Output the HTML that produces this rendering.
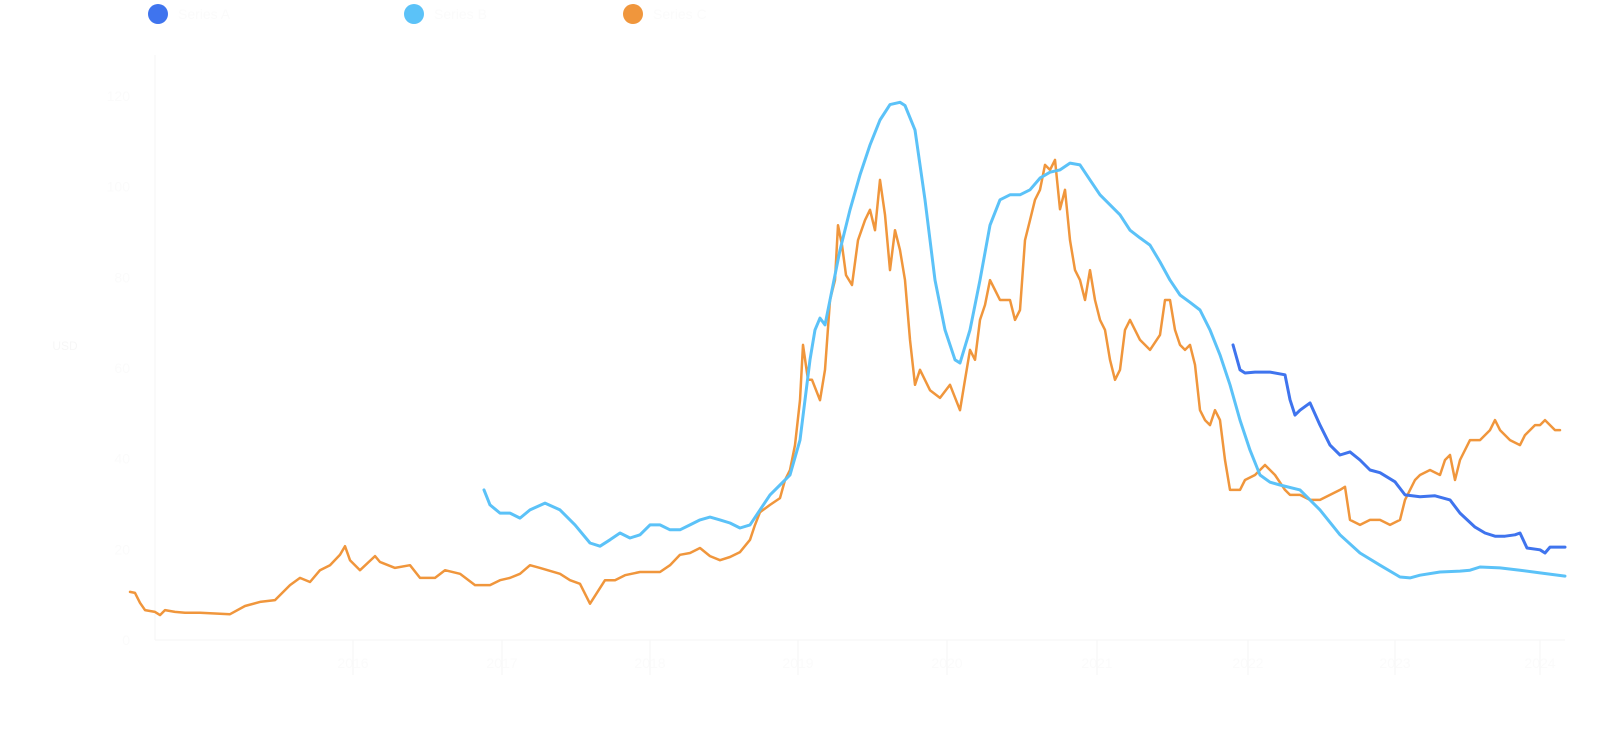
<!DOCTYPE html>
<html><head><meta charset="utf-8">
<style>
html,body{margin:0;padding:0;background:#fff;width:1600px;height:746px;overflow:hidden;font-family:"Liberation Sans","Noto Sans CJK SC",sans-serif;}
</style></head>
<body>
<svg id="chart" width="1600" height="746" viewBox="0 0 1600 746" xmlns="http://www.w3.org/2000/svg">
  <g>
    <g><circle cx="158" cy="14" r="10" fill="#3f74ee"/><text x="178" y="19" font-size="14" fill="#fbfbfb">Series A</text></g>
    <g><circle cx="414" cy="14" r="10" fill="#5bc2f8"/><text x="434" y="19" font-size="14" fill="#fbfbfb">Series B</text></g>
    <g><circle cx="633" cy="14" r="10" fill="#f0963c"/><text x="653" y="19" font-size="14" fill="#fbfbfb">Series C</text></g>
  </g>
  <g id="axes"></g>
  <g id="marks"></g>
</svg>
<script>
const yTicks=[0,20,40,60,80,100,120];
const xTickPos=[353,502,650,798,947,1097,1248,1395,1540];
const xTickLabels=["2016","2017","2018","2019","2020","2021","2022","2023","2024"];
const orangeT=[130,135,140,145,155,160,165,175,185,200,230,245,260,275,290,300,310,320,330,340,345,350,360,375,380,395,410,420,435,445,460,475,490,500,510,520,530,540,560,570,580,590,605,615,625,640,660,670,680,690,700,710,720,730,740,750,755,760,770,780,785,790,795,800,803,808,812,820,825,830,835,838,842,846,852,858,865,870,875,880,885,890,895,900,905,910,915,920,930,940,950,960,965,970,975,980,985,990,995,1000,1010,1015,1020,1025,1030,1035,1040,1045,1050,1055,1060,1065,1070,1075,1080,1085,1090,1095,1100,1105,1110,1115,1120,1125,1130,1140,1150,1160,1165,1170,1175,1180,1185,1190,1195,1200,1205,1210,1215,1220,1225,1230,1240,1245,1255,1265,1275,1285,1290,1300,1310,1320,1330,1340,1345,1350,1360,1370,1380,1390,1400,1405,1415,1420,1430,1440,1445,1450,1455,1460,1470,1480,1490,1495,1500,1510,1520,1525,1535,1540,1545,1550,1555,1560];
const orangeV=[10.6,10.4,8.2,6.6,6.2,5.5,6.6,6.2,6.0,6.0,5.7,7.5,8.4,8.8,12.1,13.7,12.8,15.4,16.5,18.8,20.7,17.6,15.4,18.5,17.2,15.9,16.5,13.7,13.7,15.4,14.6,12.1,12.1,13.2,13.7,14.6,16.5,15.9,14.6,13.2,12.4,8.0,13.2,13.2,14.3,15.0,15.0,16.5,18.8,19.2,20.3,18.5,17.6,18.3,19.4,22.1,25.4,28.2,29.8,31.3,35.3,37.5,43.0,52.9,65.1,57.4,57.4,52.9,59.6,75.0,79.4,91.5,87.1,80.5,78.3,88.2,92.6,94.9,90.4,101.5,93.8,81.6,90.4,86.0,79.4,66.2,56.3,59.6,55.1,53.4,56.3,50.7,57.4,64.0,61.8,70.6,73.9,79.4,77.2,75.0,75.0,70.6,72.8,88.2,92.6,97.1,99.3,104.8,103.7,105.9,95.0,99.3,88.2,81.6,79.4,75.0,81.6,75.0,70.6,68.4,61.8,57.4,59.6,68.4,70.6,66.2,64.0,67.3,75.0,75.0,68.4,65.1,64.0,65.1,60.7,50.7,48.5,47.4,50.7,48.5,39.7,33.1,33.1,35.3,36.4,38.6,36.4,33.1,32.0,32.0,30.9,30.9,32.0,33.1,33.8,26.5,25.4,26.5,26.5,25.4,26.5,30.9,35.3,36.4,37.5,36.4,39.7,40.8,35.3,39.7,44.1,44.1,46.3,48.5,46.3,44.1,43.0,45.2,47.4,47.4,48.5,47.4,46.3,46.3];
const lightT=[484,490,500,510,520,530,545,560,575,590,600,610,620,630,640,650,660,670,680,690,700,710,720,730,740,750,760,770,780,790,800,810,815,820,825,830,840,850,860,870,880,890,900,905,915,925,935,945,955,960,970,980,990,1000,1010,1020,1030,1040,1050,1060,1070,1080,1090,1100,1110,1120,1130,1140,1150,1160,1170,1180,1190,1200,1210,1220,1230,1240,1250,1260,1270,1280,1300,1320,1340,1360,1380,1400,1410,1420,1440,1460,1470,1480,1500,1520,1540,1565];
const lightV=[33.1,29.8,28.0,28.0,26.9,28.7,30.2,28.7,25.4,21.4,20.7,22.1,23.6,22.5,23.2,25.4,25.4,24.3,24.3,25.4,26.5,27.1,26.5,25.8,24.7,25.4,28.7,32.0,34.2,36.4,44.1,61.8,68.4,71.0,69.5,75.0,86.0,94.9,102.6,109.2,114.7,118.1,118.6,117.9,112.5,97.1,79.4,68.4,61.8,61.1,68.4,79.4,91.5,97.1,98.2,98.2,99.3,101.9,103.2,103.7,105.2,104.8,101.5,98.2,96.0,93.8,90.4,88.7,87.1,83.4,79.4,76.1,74.5,72.8,68.4,62.9,56.3,48.5,41.9,36.4,34.8,34.2,33.1,28.7,23.2,19.2,16.5,13.9,13.7,14.3,15.0,15.2,15.4,16.1,15.9,15.4,14.8,14.1];
const blueT=[1233,1240,1245,1255,1270,1285,1290,1295,1300,1310,1320,1330,1340,1350,1360,1370,1380,1395,1405,1420,1435,1450,1460,1475,1485,1495,1505,1515,1520,1527,1540,1545,1550,1565];
const blueV=[65.1,59.6,58.9,59.1,59.1,58.5,53.0,49.6,50.7,52.3,47.4,43.0,40.8,41.5,39.7,37.5,36.9,34.9,32.0,31.6,31.8,30.9,28.0,24.9,23.6,22.9,22.9,23.2,23.6,20.3,19.9,19.2,20.5,20.5];

const svgNS="http://www.w3.org/2000/svg";
const X0=130,X1=1565,PX0=130,PX1=1565;
const yBase=640,yTop=96,yMax=120;
function xs(t){return PX0+(t-X0)/(X1-X0)*(PX1-PX0);}
function ys(v){return yBase-(v/yMax)*(yBase-yTop);}
const axes=document.getElementById('axes');
const marks=document.getElementById('marks');

const yAxis=document.createElementNS(svgNS,'line');


yAxis.setAttribute('x1',155);yAxis.setAttribute('x2',155);yAxis.setAttribute('y1',55);yAxis.setAttribute('y2',640);
yAxis.setAttribute('stroke','#f6f6f6');axes.appendChild(yAxis);
const xAxis=document.createElementNS(svgNS,'line');


xAxis.setAttribute('x1',155);xAxis.setAttribute('x2',1565);xAxis.setAttribute('y1',640);xAxis.setAttribute('y2',640);
xAxis.setAttribute('stroke','#f6f6f6');axes.appendChild(xAxis);

yTicks.forEach(v=>{
  const t=document.createElementNS(svgNS,'text');
  
  
  t.setAttribute('x',130);t.setAttribute('y',ys(v)+5);t.setAttribute('text-anchor','end');
  t.setAttribute('font-size','14');t.setAttribute('fill','#fbfbfb');t.textContent=v;axes.appendChild(t);
});
const yTitle=document.createElementNS(svgNS,'text');


yTitle.setAttribute('x',65);yTitle.setAttribute('y',350);yTitle.setAttribute('font-size','12');yTitle.setAttribute('fill','#f7f7f7');
yTitle.setAttribute('text-anchor','middle');yTitle.textContent='USD';axes.appendChild(yTitle);

xTickPos.forEach((x,i)=>{
  const l=document.createElementNS(svgNS,'line');
  
  
  l.setAttribute('x1',x);l.setAttribute('x2',x);l.setAttribute('y1',640);l.setAttribute('y2',675);
  l.setAttribute('stroke','#f6f6f6');axes.appendChild(l);
  const t=document.createElementNS(svgNS,'text');
  
  
  t.setAttribute('x',x);t.setAttribute('y',668);t.setAttribute('text-anchor','middle');
  t.setAttribute('font-size','14');t.setAttribute('fill','#fbfbfb');t.textContent=xTickLabels[i];axes.appendChild(t);
});

function drawLine(T,V,color,w,name){
  let d='';
  T.forEach((t,i)=>{d+=(i?'L':'M')+xs(t).toFixed(1)+','+ys(V[i]).toFixed(1);});
  const p=document.createElementNS(svgNS,'path');
  
  
  p.setAttribute('d',d);p.setAttribute('fill','none');p.setAttribute('stroke',color);
  p.setAttribute('stroke-width',w);p.setAttribute('stroke-linejoin','round');p.setAttribute('stroke-linecap','round');
  marks.appendChild(p);
}
drawLine(orangeT,orangeV,'#f0963c',2.5,'series-c-line');
drawLine(lightT,lightV,'#5bc2f8',3,'series-b-line');
drawLine(blueT,blueV,'#3f74ee',3,'series-a-line');
</script>
</body></html>
